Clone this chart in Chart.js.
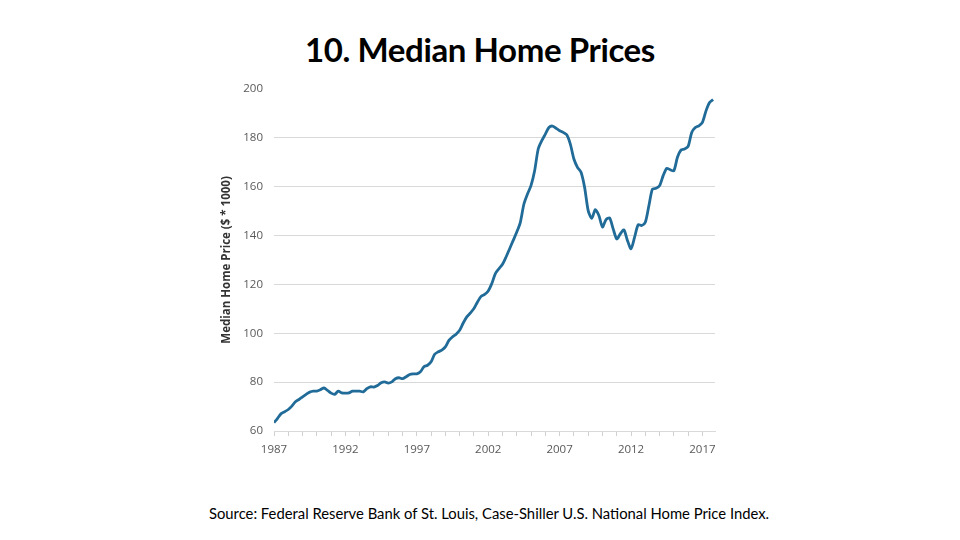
<!DOCTYPE html>
<html>
<head>
<meta charset="utf-8">
<script src="https://cdn.jsdelivr.net/npm/chart.js@4/dist/chart.umd.min.js"></script>
<style>
  html, body { margin: 0; padding: 0; background: #fff; }
  body { width: 960px; height: 540px; position: relative; overflow: hidden; }
  #title {
    position: absolute; left: 0; top: 29px; width: 960px;
    text-align: center; font-family: Lato, sans-serif; font-size: 33px; font-weight: bold;
    letter-spacing: -0.4px; color: #000;
  }
  #source {
    position: absolute; left: 0; top: 504px; width: 978px;
    text-align: center; font-family: Lato, sans-serif; font-size: 14.8px; color: #000;
  }
  #wrap { position: absolute; left: 200px; top: 71px; width: 530px; height: 394px; }
</style>
</head>
<body>
<div id="title">10. Median Home Prices</div>
<div id="wrap"><canvas id="price-chart"></canvas></div>
<div id="source">Source: Federal Reserve Bank of St. Louis, Case-Shiller U.S. National Home Price Index.</div>
<script>
// Quarterly median home price ($ * 1000), first quarter of 1987 onwards
const startYear = 1987;
const prices = [
  63.4, 65.2, 67.1, 67.9,     // 1987
  68.8, 70.2, 72.0, 72.9,     // 1988
  74.0, 75.0, 75.9, 76.3,     // 1989
  76.3, 76.9, 77.6, 76.6,     // 1990
  75.5, 75.0, 76.3, 75.6,     // 1991
  75.5, 75.6, 76.3, 76.3,     // 1992
  76.3, 76.0, 77.3, 78.1,     // 1993
  78.0, 78.6, 79.7, 80.1,     // 1994
  79.6, 80.1, 81.4, 81.8,     // 1995
  81.4, 82.2, 83.1, 83.4,     // 1996
  83.4, 84.2, 86.3, 86.9,     // 1997
  88.3, 91.4, 92.4, 93.1,     // 1998
  94.4, 97.1, 98.5, 99.6,     // 1999
  101.2, 104.2, 106.7, 108.3, // 2000
  110.1, 112.8, 115.1, 115.9, // 2001
  117.3, 120.3, 124.4, 126.4, // 2002
  128.2, 131.2, 134.6, 138.0, // 2003
  141.4, 145.4, 152.9, 157.0, // 2004
  160.5, 166.5, 175.4, 178.8, // 2005
  181.5, 184.2, 184.8, 183.9, // 2006
  182.9, 182.2, 181.2, 177.4, // 2007
  171.3, 167.9, 165.9, 159.7, // 2008
  150.2, 147.0, 150.6, 148.2, // 2009
  143.5, 146.5, 147.2, 142.7, // 2010
  138.6, 140.7, 142.3, 138.0, // 2011
  134.6, 139.3, 144.4, 144.1, // 2012
  145.4, 152.2, 159.0, 159.3, // 2013
  160.4, 164.5, 167.5, 166.9, // 2014
  166.5, 172.0, 175.0, 175.4, // 2015
  176.5, 182.2, 184.2, 184.9, // 2016
  186.3, 191.0, 194.4, 195.6  // 2017
];
const labelEvery = 5;
const yTicks = [60, 80, 100, 120, 140, 160, 180, 200];

const points = prices.map((p, i) => ({ x: startYear + i / 4, y: p }));
const tickFont = { family: "'Open Sans', sans-serif", size: 11.5 };

new Chart(document.getElementById('price-chart').getContext('2d'), {
  type: 'line',
  data: {
    datasets: [{
      data: points,
      borderColor: '#216b98',
      borderWidth: 2.8,
      pointRadius: 0,
      tension: 0.25,
      fill: false
    }]
  },
  options: {
    responsive: true,
    maintainAspectRatio: false,
    animation: false,
    layout: { padding: { left: 20, right: 15, top: 9, bottom: 0 } },
    plugins: { legend: { display: false }, tooltip: { enabled: false } },
    scales: {
      x: {
        type: 'linear',
        min: startYear,
        max: 2017.88,
        afterFit: function(scale) { scale.height = 34; },
        border: { color: '#d9d9d9', width: 1 },
        grid: { drawOnChartArea: false, tickLength: 5, color: '#d0d0d0' },
        ticks: {
          stepSize: 1,
          includeBounds: false,
          autoSkip: false,
          maxRotation: 0,
          padding: 7,
          color: '#595959',
          font: tickFont,
          callback: function(value) {
            return (value - startYear) % labelEvery === 0 ? String(value) : '';
          }
        }
      },
      y: {
        min: yTicks[0],
        max: yTicks[yTicks.length - 1],
        afterFit: function(scale) { scale.width = 54; },
        afterBuildTicks: function(scale) { scale.ticks = yTicks.map(v => ({ value: v })); },
        border: { display: false },
        grid: {
          drawTicks: false,
          color: function(ctx) {
            return ctx.tick && (ctx.tick.value === 200 || ctx.tick.value === 60) ? 'rgba(0,0,0,0)' : '#d9d9d9';
          }
        },
        ticks: { padding: 11, color: '#595959', font: tickFont },
        title: {
          display: true,
          text: 'Median Home Price ($ * 1000)',
          color: '#333',
          padding: { top: 0, bottom: 4 },
          font: { family: "'Open Sans', sans-serif", size: 11.5, weight: 'bold' }
        }
      }
    }
  }
});
</script>
</body>
</html>
